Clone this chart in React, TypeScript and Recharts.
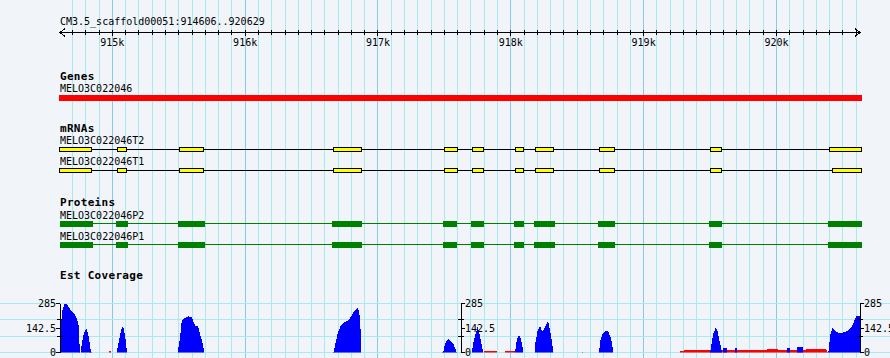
import React from "react";
import { ComposedChart, XAxis, YAxis, Area, ReferenceLine, ReferenceArea } from "recharts";

// ---------- region / ruler ----------
const REGION_LABEL = "CM3.5_scaffold00051:914606..920629";
const X_START = 914606;
const X_END = 920629;
const RULER_MAJOR = [915000, 916000, 917000, 918000, 919000, 920000];
const RULER_LABELS = ["915k", "916k", "917k", "918k", "919k", "920k"];
const RULER_MINOR = Array.from({ length: 60 }, (_, i) => 914700 + i * 100);

// ---------- track titles ----------
const TRACK_TITLES = ["Genes", "mRNAs", "Proteins", "Est Coverage"];

// ---------- gene ----------
const GENE_NAME = "MELO3C022046";
const GENE_STARTS = [914600];
const GENE_ENDS = [920644];

// ---------- mRNAs ----------
const T2_NAME = "MELO3C022046T2";
const T2_STARTS = [914600, 915037, 915504, 916662, 917500, 917708, 918032, 918183, 918665, 919497, 920399];
const T2_ENDS = [914849, 915113, 915693, 916880, 917601, 917796, 918098, 918324, 918783, 919591, 920644];
const T1_NAME = "MELO3C022046T1";
const T1_STARTS = [914600, 915037, 915504, 916662, 917500, 917708, 918032, 918183, 918665, 919497, 920421];
const T1_ENDS = [914849, 915113, 915693, 916880, 917601, 917796, 918098, 918324, 918783, 919591, 920644];

// ---------- proteins ----------
const P2_NAME = "MELO3C022046P2";
const P1_NAME = "MELO3C022046P1";
const P_STARTS = [914606, 915028, 915495, 916654, 917490, 917701, 918025, 918175, 918657, 919493, 920389];
const P_ENDS = [914852, 915118, 915696, 916880, 917595, 917799, 918100, 918333, 918785, 919591, 920644];

// ---------- EST coverage ----------
const COV_MAX = 285;
const COV_LABELED = [0, 142.5, 285];
const COV_AXIS_TICKS = [0, 95, 142.5, 190, 285];
const COV_GRID = [0, 95, 190, 285];

const BLUE_POS = [
  914610, 914614, 914621, 914636, 914644, 914659, 914674, 914689, 914704, 914719, 914734, 914742, 914749, 914755,
  914763, 914768, 914779, 914794, 914806, 914817, 914824, 914832, 914839,
  915033, 915043, 915058, 915073, 915080, 915088, 915099, 915110,
  915492, 915498, 915510, 915522, 915534, 915549, 915572, 915598, 915610, 915623, 915647, 915660, 915673, 915685, 915693,
  916665, 916677, 916699, 916722, 916745, 916767, 916790, 916812, 916835, 916850, 916865, 916876,
  917492, 917497, 917510, 917530, 917543, 917556, 917568, 917580, 917593,
  917706, 917716, 917731, 917743, 917748, 917761, 917774, 917786, 917790,
  918032, 918045, 918057, 918070, 918083, 918095,
  918183, 918186, 918200, 918215, 918226, 918233, 918245, 918258, 918271, 918278, 918288, 918296, 918308, 918321,
  918665, 918672, 918685, 918697, 918710, 918723, 918735, 918747, 918760, 918772,
  919501, 919513, 919525, 919543, 919558, 919570, 919583, 919589,
  919595, 919596, 919626, 919627,
  919688, 919689, 919704, 919705,
  920077, 920078, 920103, 920104,
  920152, 920153, 920201, 920202,
  920391, 920397, 920404, 920422, 920455, 920480, 920517, 920542, 920568, 920588, 920600, 920629,
];
const BLUE_VAL = [
  0, 150, 240, 275, 285, 283, 262, 245, 232, 218, 195, 172, 150, 0,
  0, 40, 90, 125, 135, 115, 80, 40, 0,
  0, 40, 100, 148, 153, 130, 80, 0,
  0, 30, 90, 178, 196, 202, 210, 205, 180, 155, 150, 110, 72, 33, 0,
  0, 42, 118, 159, 176, 182, 200, 229, 252, 258, 200, 0,
  0, 30, 62, 77, 66, 60, 48, 25, 0,
  0, 50, 100, 130, 149, 120, 72, 23, 0,
  0, 72, 97, 92, 52, 0,
  0, 60, 120, 149, 150, 125, 128, 148, 168, 182, 161, 125, 70, 0,
  0, 66, 97, 115, 124, 128, 118, 97, 64, 0,
  0, 62, 110, 143, 120, 72, 33, 0,
  0, 25, 25, 0,
  0, 25, 25, 0,
  0, 26, 26, 0,
  0, 30, 30, 0,
  0, 40, 100, 140, 120, 110, 120, 130, 150, 188, 211, 211,
];

const RED_POS = [
  914750, 914751, 914759, 914760,
  914835, 914836, 914843, 914844,
  914974, 914975, 914990, 914991,
  917485, 917486, 917494, 917495,
  917798, 917799, 917897, 917898,
  917956, 917957, 918032, 918033,
  918536, 918537, 918545, 918546,
  919271, 919275, 919312, 919350, 919388, 919425, 919463, 919501, 919591, 919651, 919726, 919802,
  919877, 919937, 919967, 920005, 920065, 920141, 920231, 920269, 920329, 920366, 920381, 920385,
];
const RED_VAL = [
  0, 6, 6, 0,
  0, 6, 6, 0,
  0, 7, 7, 0,
  0, 5, 5, 0,
  0, 6, 6, 0,
  0, 7, 7, 0,
  0, 5, 5, 0,
  0, 10, 12, 14, 12, 13, 15, 12, 12, 13, 12, 13,
  14, 18, 20, 18, 14, 13, 18, 20, 18, 20, 15, 0,
];

// ---------- styling ----------
const W = 890;
const H = 358;
const FONT = "'DejaVu Sans Mono', monospace";
const BG = "#f1f4f9";
const GRID_MINOR = "#a9e9ef";
const GRID_MAJOR = "#8bc9ea";

const EDGE = [{ x: X_START, v: 0 }, { x: X_END, v: 1 }];
const BLUE_DATA = BLUE_POS.map((p, i) => ({ x: p, v: BLUE_VAL[i] }));
const RED_DATA = RED_POS.map((p, i) => ({ x: p, v: RED_VAL[i] }));
const RULER_TICKS = [X_START, ...RULER_MINOR, X_END];

const XA = (props: any) => (
  <XAxis type="number" dataKey="x" domain={[X_START, X_END]} allowDataOverflow {...props} />
);

function RulerTick(props: any) {
  const { x, y, payload } = props;
  const v = payload.value;
  if (v === X_START) {
    return <polyline points={`${x + 5},${y - 4} ${x},${y} ${x + 5},${y + 4}`} fill="none" stroke="#000" />;
  }
  if (v === X_END) {
    return <polyline points={`${x - 5},${y - 4} ${x},${y} ${x - 5},${y + 4}`} fill="none" stroke="#000" />;
  }
  const idx = RULER_MAJOR.indexOf(v);
  if (idx >= 0) {
    return (
      <g>
        <line x1={x} x2={x} y1={y - 2.5} y2={y + 3.5} stroke="#000" />
        <text x={x} y={y + 13.5} textAnchor="middle" fontFamily={FONT} fontSize={10} fill="#000">
          {RULER_LABELS[idx]}
        </text>
      </g>
    );
  }
  return <line x1={x} x2={x} y1={y - 2.5} y2={y + 2.5} stroke="#000" />;
}

function covTick(side: "left" | "right") {
  return (props: any) => {
    const { x, y, payload } = props;
    const v = payload.value;
    const s = side === "left" ? -1 : 1;
    if (!COV_LABELED.includes(v)) {
      return <line x1={x - 3} x2={x + 3} y1={y} y2={y} stroke="#000" />;
    }
    return (
      <g>
        <line x1={x} x2={x + s * 4} y1={y} y2={y} stroke="#000" />
        <text
          x={x + s * 4}
          y={y}
          dy="0.36em"
          textAnchor={side === "left" ? "end" : "start"}
          fontFamily={FONT}
          fontSize={10}
          fill="#000"
        >
          {String(v)}
        </text>
      </g>
    );
  };
}

function boxShape(fill: string, border?: string) {
  return (p: any) => {
    const x = Math.round(p.x);
    const y = Math.round(p.y);
    const w = Math.max(1, Math.round(p.x + p.width) - x);
    const h = Math.max(1, Math.round(p.y + p.height) - y);
    if (border) {
      return (
        <g>
          <rect x={x} y={y} width={w} height={h} style={{ fill: border }} />
          <rect x={x + 1} y={y + 1} width={Math.max(0, w - 2)} height={Math.max(0, h - 2)} style={{ fill }} />
        </g>
      );
    }
    return <rect x={x} y={y} width={w} height={h} style={{ fill }} />;
  };
}

function Track(props: {
  plotTop: number;
  plotH: number;
  starts: number[];
  ends: number[];
  fill: string;
  border?: string;
  line?: string;
  lineY?: number;
}) {
  const { plotTop, plotH, starts, ends, fill, border, line, lineY } = props;
  const pad = 8;
  const ly = lineY ?? 0.5;
  return (
    <div style={{ position: "absolute", left: 0, top: plotTop - pad, width: W, height: plotH + 2 * pad }}>
      <ComposedChart width={W} height={plotH + 2 * pad} margin={{ top: pad, right: 30, bottom: pad, left: 60 }} data={EDGE}>
        {XA({ hide: true })}
        <YAxis type="number" dataKey="v" domain={[0, 1]} hide allowDataOverflow />
        {line
          ? starts.slice(1).map((s, i) => (
              <ReferenceLine
                key={"l" + i}
                segment={[
                  { x: ends[i], y: ly },
                  { x: s, y: ly },
                ]}
                stroke={line}
                strokeWidth={1}
                ifOverflow="visible"
              />
            ))
          : null}
        {starts.map((s, i) => (
          <ReferenceArea
            key={"a" + i}
            x1={s}
            x2={ends[i]}
            y1={0}
            y2={1}
            fill={fill}
            fillOpacity={1}
            ifOverflow="visible"
            shape={boxShape(fill, border)}
          />
        ))}
      </ComposedChart>
    </div>
  );
}

const abs: React.CSSProperties = { position: "absolute", left: 0, top: 0 };

export default function App() {
  return (
    <div className="gb" style={{ position: "absolute", left: 0, top: 0, width: W, height: H, background: BG, overflow: "hidden" }}>
      <style>{`.gb svg line, .gb svg path, .gb svg rect, .gb svg polyline { shape-rendering: crispEdges; }`}</style>

      {/* vertical grid */}
      <div style={abs}>
        <ComposedChart width={W} height={H} margin={{ top: 0, right: 30, bottom: 0, left: 60 }} data={EDGE}>
          {XA({ hide: true })}
          <YAxis type="number" dataKey="v" domain={[0, 1]} hide allowDataOverflow />
          {RULER_MINOR.map((v) => (
            <ReferenceLine key={v} x={v} stroke={v % 1000 === 0 ? GRID_MAJOR : GRID_MINOR} strokeWidth={1} ifOverflow="visible" />
          ))}
        </ComposedChart>
      </div>

      {/* horizontal coverage grid */}
      <div style={abs}>
        <ComposedChart width={W} height={H} margin={{ top: 303.5, right: 0, bottom: 5.5, left: 0 }} data={EDGE}>
          {XA({ hide: true })}
          <YAxis type="number" domain={[0, COV_MAX]} hide allowDataOverflow />
          {COV_GRID.map((v) => (
            <ReferenceLine key={v} y={v} stroke={GRID_MINOR} strokeWidth={1} ifOverflow="visible" />
          ))}
        </ComposedChart>
      </div>

      {/* red coverage */}
      <div style={abs}>
        <ComposedChart width={W} height={H} margin={{ top: 303.5, right: 30, bottom: 5.5, left: 60 }} data={RED_DATA}>
          {XA({ hide: true })}
          <YAxis type="number" domain={[0, COV_MAX]} hide allowDataOverflow />
          <Area dataKey="v" type="linear" fill="#ff0000" fillOpacity={1} stroke="none" isAnimationActive={false} dot={false} activeDot={false} />
        </ComposedChart>
      </div>

      {/* blue coverage with left & right axes */}
      <div style={abs}>
        <ComposedChart width={W} height={H} margin={{ top: 303.5, right: 0, bottom: 5.5, left: 0 }} data={BLUE_DATA}>
          {XA({ hide: true })}
          <YAxis
            yAxisId="l"
            orientation="left"
            width={60}
            type="number"
            domain={[0, COV_MAX]}
            ticks={COV_AXIS_TICKS}
            interval={0}
            tickLine={false}
            tickSize={0}
            tickMargin={0}
            axisLine={{ stroke: "#000" }}
            tick={covTick("left")}
            allowDataOverflow
          />
          <YAxis
            yAxisId="r"
            orientation="right"
            width={30}
            type="number"
            domain={[0, COV_MAX]}
            ticks={COV_AXIS_TICKS}
            interval={0}
            tickLine={false}
            tickSize={0}
            tickMargin={0}
            axisLine={{ stroke: "#000" }}
            tick={covTick("right")}
            allowDataOverflow
          />
          <Area yAxisId="l" dataKey="v" type="linear" fill="#0000ff" fillOpacity={1} stroke="none" isAnimationActive={false} dot={false} activeDot={false} />
        </ComposedChart>
      </div>

      {/* middle coverage axis */}
      <div style={abs}>
        <ComposedChart width={W} height={H} margin={{ top: 303.5, right: 0, bottom: 5.5, left: 0 }} data={EDGE}>
          {XA({ hide: true })}
          <YAxis
            orientation="right"
            width={429}
            type="number"
            domain={[0, COV_MAX]}
            ticks={COV_AXIS_TICKS}
            interval={0}
            tickLine={false}
            tickSize={0}
            tickMargin={0}
            axisLine={{ stroke: "#000" }}
            tick={covTick("right")}
            allowDataOverflow
          />
        </ComposedChart>
      </div>

      {/* ruler */}
      <div style={abs}>
        <ComposedChart width={W} height={60} margin={{ top: 0, right: 30, bottom: 0, left: 60 }} data={EDGE}>
          {XA({
            ticks: RULER_TICKS,
            interval: 0,
            height: 27.5,
            tickLine: false,
            tickSize: 0,
            tickMargin: 0,
            axisLine: { stroke: "#000" },
            tick: RulerTick,
          })}
          <YAxis type="number" dataKey="v" domain={[0, 1]} hide allowDataOverflow />
        </ComposedChart>
      </div>

      {/* feature tracks */}
      <Track plotTop={95} plotH={6} starts={GENE_STARTS} ends={GENE_ENDS} fill="#ff0000" />
      <Track plotTop={147} plotH={5} starts={T2_STARTS} ends={T2_ENDS} fill="#ffff00" border="#000000" line="#000" lineY={0.5} />
      <Track plotTop={168} plotH={5} starts={T1_STARTS} ends={T1_ENDS} fill="#ffff00" border="#000000" line="#000" lineY={0.5} />
      <Track plotTop={221} plotH={6} starts={P_STARTS} ends={P_ENDS} fill="#008000" line="#008000" lineY={0.583} />
      <Track plotTop={242} plotH={6} starts={P_STARTS} ends={P_ENDS} fill="#008000" line="#008000" lineY={0.583} />

      {/* labels */}
      <svg width={W} height={H} style={{ ...abs, pointerEvents: "none" }}>
        <g fontFamily={FONT} fill="#000">
          <text x={60} y={25} fontSize={10}>{REGION_LABEL}</text>
          <text x={60} y={79.5} fontSize={11} fontWeight="bold" letterSpacing={0.3}>{TRACK_TITLES[0]}</text>
          <text x={60} y={92} fontSize={10}>{GENE_NAME}</text>
          <text x={60} y={131.5} fontSize={11} fontWeight="bold" letterSpacing={0.3}>{TRACK_TITLES[1]}</text>
          <text x={60} y={144} fontSize={10}>{T2_NAME}</text>
          <text x={60} y={165} fontSize={10}>{T1_NAME}</text>
          <text x={60} y={206} fontSize={11} fontWeight="bold" letterSpacing={0.3}>{TRACK_TITLES[2]}</text>
          <text x={60} y={218.5} fontSize={10}>{P2_NAME}</text>
          <text x={60} y={239.5} fontSize={10}>{P1_NAME}</text>
          <text x={60} y={279} fontSize={11} fontWeight="bold" letterSpacing={0.3}>{TRACK_TITLES[3]}</text>
        </g>
      </svg>
    </div>
  );
}
